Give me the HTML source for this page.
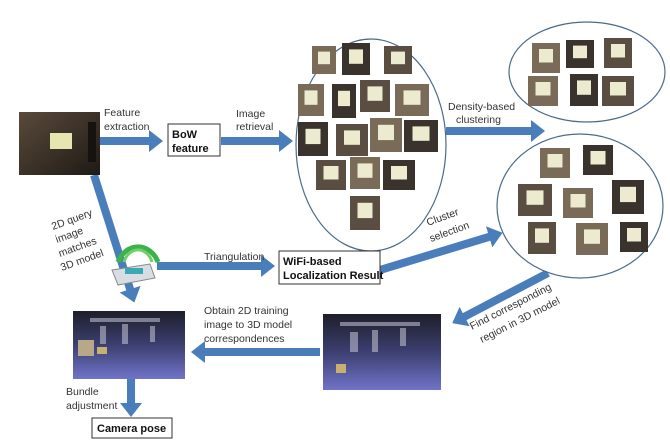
<!DOCTYPE html>
<html><head><meta charset="utf-8"><style>
html,body{margin:0;padding:0;background:#fff;}
svg{display:block;font-family:"Liberation Sans",sans-serif;}
text{fill:#333;font-size:10.5px;}
.b{font-weight:bold;fill:#111;font-size:11px;}
</style></head><body>
<svg width="670" height="446" viewBox="0 0 670 446">
<defs>
<marker id="ah" markerUnits="userSpaceOnUse" markerWidth="18" markerHeight="22" refX="3" refY="11" orient="auto">
<path d="M0,0 L14,11 L0,22 Z" fill="#4a7ebb"/></marker>
<linearGradient id="m3d" x1="0" y1="0" x2="0" y2="1"><stop offset="0" stop-color="#1e1e2a"/><stop offset="0.5" stop-color="#3c3f70"/><stop offset="1" stop-color="#7074c8"/></linearGradient>
<linearGradient id="room" x1="0" y1="0" x2="1" y2="1"><stop offset="0" stop-color="#5a4a3a"/><stop offset="1" stop-color="#1e1a16"/></linearGradient>
</defs>
<g stroke="#4a7ebb" stroke-width="8" fill="none" marker-end="url(#ah)">
<line x1="100" y1="141" x2="152" y2="141"/>
<line x1="221" y1="141" x2="282" y2="141"/>
<line x1="446" y1="131" x2="534" y2="131"/>
<line x1="94" y1="175" x2="131" y2="292"/>
<line x1="157" y1="266" x2="264" y2="266"/>
<line x1="380" y1="270" x2="492" y2="236"/>
<line x1="548" y1="273" x2="462" y2="318"/>
<line x1="320" y1="352" x2="202" y2="352"/>
<line x1="131" y1="378" x2="131" y2="406"/>
</g>
<g>
<rect x="19" y="112" width="81" height="63" fill="url(#room)"/>
<rect x="50" y="133" width="22" height="16" fill="#e8e6b0"/>
<rect x="88" y="122" width="8" height="40" fill="#151210"/>
</g>
<rect x="168" y="124" width="52" height="32" fill="#fff" stroke="#333"/>
<text class="b" x="172" y="138">BoW</text><text class="b" x="172" y="152">feature</text>
<text x="104" y="116">Feature</text><text x="104" y="130">extraction</text>
<text x="236" y="117">Image</text><text x="236" y="130">retrieval</text>
<ellipse cx="371" cy="145" rx="75" ry="106" fill="#fff" stroke="#4a6a8a" stroke-width="1.2"/>
<ellipse cx="587" cy="72" rx="78" ry="50" fill="#fff" stroke="#4a6a8a" stroke-width="1.2"/>
<ellipse cx="580" cy="206" rx="83" ry="72" fill="#fff" stroke="#4a6a8a" stroke-width="1.2"/>
<g id="thumbs"></g>
<text x="448" y="110">Density-based</text><text x="456" y="123">clustering</text>
<g>
<path d="M118,262 A22,26 0 0 1 158,262" stroke="#3bb34a" stroke-width="5" fill="none"/>
<path d="M124,262 A15,19 0 0 1 152,262" stroke="#6fd06a" stroke-width="3" fill="none"/>
<path d="M112,270 L150,264 L155,278 L118,285 Z" fill="#d8dde2" stroke="#888"/>
<rect x="125" y="268" width="18" height="6" fill="#3aa9b6"/>
</g>
<text x="204" y="260">Triangulation</text>
<rect x="279" y="251" width="101" height="33" fill="#fff" stroke="#333"/>
<text class="b" x="283" y="265">WiFi-based</text><text class="b" x="283" y="279">Localization Result</text>
<text transform="translate(428,226) rotate(-20)">Cluster</text>
<text transform="translate(431,242) rotate(-20)">selection</text>
<text transform="translate(472,330) rotate(-27)">Find corresponding</text>
<text transform="translate(482,343) rotate(-27)">region in 3D model</text>
<rect x="323" y="314" width="118" height="76" fill="url(#m3d)"/>
<rect x="73" y="311" width="112" height="68" fill="url(#m3d)"/>
<g fill="#c8c8d8" opacity="0.55">
<rect x="340" y="322" width="80" height="4"/><rect x="350" y="332" width="8" height="20"/><rect x="372" y="330" width="6" height="22"/><rect x="400" y="328" width="6" height="18"/>
<rect x="90" y="318" width="70" height="4"/><rect x="100" y="326" width="6" height="18"/><rect x="122" y="324" width="6" height="20"/><rect x="150" y="326" width="5" height="16"/>
</g>
<rect x="78" y="340" width="16" height="16" fill="#b8a88a"/><rect x="97" y="347" width="10" height="7" fill="#c8b070"/>
<rect x="336" y="364" width="10" height="9" fill="#c8b070"/>
<text x="204" y="330">Obtain 2D training</text><text x="204" y="343">image to 3D model</text><text x="204" y="356" style="display:none">x</text>
<text x="204" y="343" style="display:none">x</text>
<text transform="translate(53,230) rotate(-20)">2D query</text>
<text transform="translate(57,243) rotate(-20)">image</text>
<text transform="translate(60,257) rotate(-20)">matches</text>
<text transform="translate(62,271) rotate(-20)">3D model</text>
<text x="66" y="395">Bundle</text><text x="66" y="409">adjustment</text>
<rect x="92" y="418" width="80" height="20" fill="#fff" stroke="#333"/>
<text class="b" x="97" y="432">Camera pose</text>
</svg>
<script>
(function(){var s=document.querySelector('svg');
var t=document.createElementNS('http://www.w3.org/2000/svg','text');
t.setAttribute('x','204');t.setAttribute('y','316');t.textContent='Obtain 2D training';
var ts=s.querySelectorAll('text');
ts.forEach(function(e){if(e.textContent==='Obtain 2D training'){e.setAttribute('y','314');}if(e.textContent==='image to 3D model'){e.setAttribute('y','328');}});
var c=document.createElementNS('http://www.w3.org/2000/svg','text');
c.setAttribute('x','204');c.setAttribute('y','342');c.textContent='correspondences';


s.appendChild(c);})();
var thumbs=[[312,46,24,28],[342,43,28,32],[384,46,28,28],[298,84,26,32],[332,84,24,34],[360,80,30,32],[395,84,34,32],[298,122,30,34],[336,124,32,32],[370,118,32,34],[404,120,34,32],[316,160,30,30],[350,157,30,32],[383,160,32,30],[350,196,30,34],
[532,43,28,30],[566,40,28,28],[604,38,28,30],[528,76,30,30],[570,74,28,32],[602,76,32,30],
[540,148,30,30],[583,145,30,30],[518,184,34,32],[563,188,30,30],[612,180,32,34],[528,222,28,32],[576,223,32,32],[620,222,28,30]];
var g=document.getElementById('thumbs');
thumbs.forEach(function(t,i){
 var r=document.createElementNS('http://www.w3.org/2000/svg','rect');
 r.setAttribute('x',t[0]);r.setAttribute('y',t[1]);r.setAttribute('width',t[2]);r.setAttribute('height',t[3]);
 r.setAttribute('fill',i%3==0?'#7a6a58':(i%3==1?'#3a322c':'#5a4e42'));
 
 
 g.appendChild(r);
 var w=document.createElementNS('http://www.w3.org/2000/svg','rect');
 w.setAttribute('x',t[0]+t[2]*0.25);w.setAttribute('y',t[1]+t[3]*0.2);w.setAttribute('width',t[2]*0.5);w.setAttribute('height',t[3]*0.45);
 w.setAttribute('fill','#ecebd0');
 
 
 g.appendChild(w);
});
</script>
</body></html>
